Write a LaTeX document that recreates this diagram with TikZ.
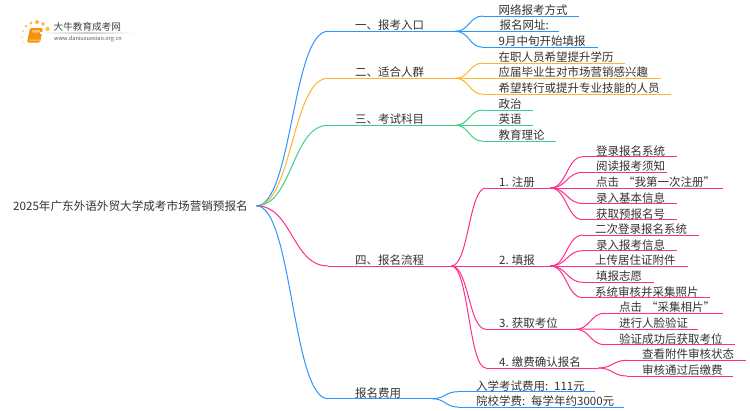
\documentclass[tikz,border=0pt]{standalone}
\usepackage{fontspec}
\setmainfont{Noto Sans CJK SC}
\usetikzlibrary{calc}
\definecolor{cblue}{HTML}{2E95FF}
\definecolor{corange}{HTML}{FFB52E}
\definecolor{cgreen}{HTML}{3CD28A}
\definecolor{cpink}{HTML}{FF2E8E}
\definecolor{ctext}{HTML}{333333}
\definecolor{bookbody}{HTML}{F2920F}
\definecolor{booklight}{HTML}{FBC766}
\tikzset{
  topic/.style={anchor=south west,inner sep=0pt,align=left,text=ctext,font=\fontsize{11.5}{13}\selectfont,text height=10pt,text depth=1.2pt},
  link/.style={line width=1pt},
}
% name, colour, x0, x1, y, text x, text
\newcommand{\mmtopic}[7]{%
  \pgfmathsetmacro{\nodew}{#4-#3}\pgfmathsetmacro{\nodeo}{#6-#3}%
  \node[topic,text width=\nodew pt] (#1) at (#3,#5) {\hspace*{\nodeo pt}#7};
  \draw[link,#2] (#1.south west) -- (#1.south east);
}
% colour, parent, child
\newcommand{\mmlink}[3]{%
  \draw[link,#1] let \p1=(#2.south east),\p2=(#3.south west) in
    (\p1) .. controls ({(\x1+\x2)/2},\y1) and ({(\x1+\x2)/2},\y2) .. (\p2);
}
\newcommand{\mmroot}[2]{%
  \draw[link,#1] let \p1=(root.east),\p2=(#2.south west) in
    (\p1) .. controls ({(\x1+\x2)/2},\y1) and ({(\x1+\x2)/2},\y2) .. (\p2);
}
\begin{document}
\begin{tikzpicture}[x=1pt,y=-1pt]
\useasboundingbox (0,0) rectangle (750,410);
\fill[white] (0,0) rectangle (750,410);
% logo
\foreach \px/\py/\pr/\pc in {23/42/0.8/FFE0A0,22/37/1/FFD98A,23/31/1.2/FFD070,26/26/1.5/FFC850,31/23/1.7/FFC040,37/22/2/FFB52E,43/24/1.8/FFB52E,47.5/29/2.2/FFC040}{
  \definecolor{tmpc}{HTML}{\pc}\fill[tmpc] (\px,\py) circle (\pr);}
\fill[bookbody,rounded corners=1.5pt] (30,28) -- (43,28) -- (40,42.5) -- (27,42.5) -- cycle;
\fill[booklight,rounded corners=0.8pt] (32.5,30) -- (40.5,30) -- (40,32.5) -- (32,32.5) -- cycle;
\fill[booklight] (29.2,39.6) -- (40,39.6) -- (39.8,40.6) -- (29,40.6) -- cycle;
\shade[left color=white,right color=white,middle color=black!20] (40,32.7) rectangle (134,33.3);
\node[anchor=west,inner sep=0pt,text=black!75,font=\fontsize{9.6}{11}\selectfont] (logoa) at (53.5,27) {大牛教育成考网};
\node[anchor=west,inner sep=0pt,text=black!65,font=\fontsize{5.6}{7}\selectfont] (logob) at (54,38.5) {www.daniuxuexiao.org.cn};
% root
\node[anchor=west,inner sep=0pt,text width=243pt,align=left,text=ctext,font=\fontsize{11.6}{13}\selectfont] (root) at (13,205.8) {2025年广东外语外贸大学成考市场营销预报名};
% level 1
\mmtopic{a}{cblue}{328}{455}{31.3}{355}{一、报考入口}
\mmtopic{b}{corange}{328}{455}{78.3}{355}{二、适合人群}
\mmtopic{c}{cgreen}{328}{455}{125.3}{355}{三、考试科目}
\mmtopic{d}{cpink}{328}{451}{266}{355}{四、报名流程}
\mmtopic{e}{cblue}{328}{432}{398.7}{355}{报名费用}
\mmroot{cblue}{a}\mmroot{corange}{b}\mmroot{cgreen}{c}\mmroot{cpink}{d}\mmroot{cblue}{e}
% group a
\mmtopic{a1}{cblue}{483}{579}{16}{498.5}{网络报考方式}
\mmtopic{a2}{cblue}{483}{559}{31.3}{499.5}{报名网址:}
\mmtopic{a3}{cblue}{483}{598}{47.3}{498.5}{9月中旬开始填报}
\mmlink{cblue}{a}{a1}\mmlink{cblue}{a}{a2}\mmlink{cblue}{a}{a3}
% group b
\mmtopic{b1}{corange}{483}{625}{63}{498.5}{在职人员希望提升学历}
\mmtopic{b2}{corange}{483}{661}{78.3}{498.5}{应届毕业生对市场营销感兴趣}
\mmtopic{b3}{corange}{483}{671}{94.3}{498.5}{希望转行或提升专业技能的人员}
\mmlink{corange}{b}{b1}\mmlink{corange}{b}{b2}\mmlink{corange}{b}{b3}
% group c
\mmtopic{c1}{cgreen}{483}{533}{110}{498.5}{政治}
\mmtopic{c2}{cgreen}{483}{533}{125.3}{498.5}{英语}
\mmtopic{c3}{cgreen}{483}{556}{141.3}{498.5}{教育理论}
\mmlink{cgreen}{c}{c1}\mmlink{cgreen}{c}{c2}\mmlink{cgreen}{c}{c3}
% group d
\mmtopic{d1}{cpink}{486}{550}{188}{499}{1.\hspace{3pt}注册}
\mmtopic{d2}{cpink}{486}{550}{266}{499}{2.\hspace{3pt}填报}
\mmtopic{d3}{cpink}{486}{575}{329.3}{499}{3.\hspace{3pt}获取考位}
\mmtopic{d4}{cpink}{486}{598}{368}{499}{4.\hspace{3pt}缴费确认报名}
\mmlink{cpink}{d}{d1}\mmlink{cpink}{d}{d2}\mmlink{cpink}{d}{d3}\mmlink{cpink}{d}{d4}
% d1 children
\mmtopic{p1}{cpink}{583}{677}{156.7}{596}{登录报名系统}
\mmtopic{p2}{cpink}{583}{667}{172.3}{596}{阅读报考须知}
\mmtopic{p3}{cpink}{583}{723}{188}{596}{点击 “我第一次注册”}
\mmtopic{p4}{cpink}{583}{677}{203.5}{596}{录入基本信息}
\mmtopic{p5}{cpink}{583}{677}{219.7}{596}{获取预报名号}
\mmlink{cpink}{d1}{p1}\mmlink{cpink}{d1}{p2}\mmlink{cpink}{d1}{p3}\mmlink{cpink}{d1}{p4}\mmlink{cpink}{d1}{p5}
% d2 children
\mmtopic{q1}{cpink}{583}{699}{235}{595}{二次登录报名系统}
\mmtopic{q2}{cpink}{583}{677}{250.7}{596}{录入报考信息}
\mmtopic{q3}{cpink}{583}{688}{266}{595}{上传居住证附件}
\mmtopic{q4}{cpink}{583}{654}{282.3}{596}{填报志愿}
\mmtopic{q5}{cpink}{583}{710}{297.7}{595}{系统审核并采集照片}
\mmlink{cpink}{d2}{q1}\mmlink{cpink}{d2}{q2}\mmlink{cpink}{d2}{q3}\mmlink{cpink}{d2}{q4}\mmlink{cpink}{d2}{q5}
% d3 children
\mmtopic{r1}{cpink}{605}{723}{313.3}{619}{点击 “采集相片”}
\mmtopic{r2}{cpink}{605}{698}{329}{619}{进行人脸验证}
\mmtopic{r3}{cpink}{605}{735}{344.7}{619}{验证成功后获取考位}
\mmlink{cpink}{d3}{r1}\mmlink{cpink}{d3}{r2}\mmlink{cpink}{d3}{r3}
% d4 children
\mmtopic{s1}{cpink}{627}{746}{360.3}{642}{查看附件审核状态}
\mmtopic{s2}{cpink}{627}{733}{376}{642}{审核通过后缴费}
\mmlink{cpink}{d4}{s1}\mmlink{cpink}{d4}{s2}
% e children
\mmtopic{e1}{cblue}{458}{595}{391.7}{476}{入学考试费用: 111元}
\mmtopic{e2}{cblue}{458}{624}{407}{476}{院校学费: 每学年约3000元}
\mmlink{cblue}{e}{e1}\mmlink{cblue}{e}{e2}
\end{tikzpicture}
\end{document}
